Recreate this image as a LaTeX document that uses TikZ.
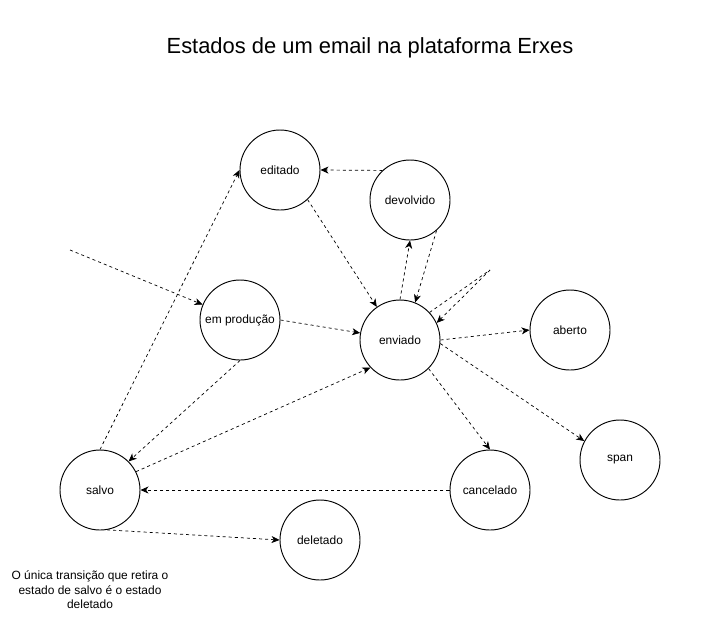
\documentclass[tikz,border=0pt]{standalone}
\usepackage{fontspec}
\setmainfont{Liberation Sans}
\usetikzlibrary{arrows.meta,shapes.geometric}

\begin{document}
\begin{tikzpicture}[x=0.03cm,y=-0.03cm,
  every node/.style={font=\fontsize{10.2pt}{12.3pt}\selectfont},
  estado/.style={draw,circle,line width=0.8pt,minimum size=2.4cm,inner sep=0pt,align=center},
  trans/.style={-{Stealth[length=2.4mm,width=2.1mm,inset=0.7mm]},line width=0.6pt,dash pattern=on 2.6pt off 2.6pt}]
\useasboundingbox (0,0) rectangle (702,631);
\node[font=\fontsize{18.7pt}{22pt}\selectfont] (titulo) at (370,48) {Estados de um email na plataforma Erxes};
\node[estado] (editado) at (280,170) {editado};
\node[estado] (devolvido) at (410,200) {devolvido};
\node[estado] (emprod) at (240,320) {em produção};
\node[estado] (enviado) at (400,340) {enviado};
\node[estado] (aberto) at (570,330) {aberto};
\node[estado] (span) at (620,460) {span};
\node[estado] (salvo) at (100,490) {salvo};
\node[estado] (cancelado) at (490,490) {cancelado};
\node[estado] (deletado) at (320,540) {deletado};
\node[align=center] (nota) at (90,590) {O única transição que retira o\\estado de salvo é o estado\\deletado};
\coordinate (entrada) at (70,250);
\coordinate (solto) at (490,270);
% transicoes
\draw[trans] (entrada) -- (emprod);
\draw[trans] (emprod.east) -- (enviado.170);
\draw[trans] (editado.-47) -- (enviado.125);
\draw[trans] (devolvido.133) -- (editado.east);
\draw[trans] (enviado.north) -- (devolvido.south);
\draw[trans] (devolvido.-49) -- (enviado.68);
\draw[trans,-] (enviado.43) -- (solto);
\draw[trans] (solto) -- (enviado.25);
\draw[trans] (enviado.east) -- (aberto.west);
\draw[trans] (enviado.-5) -- (span.152);
\draw[trans] (enviado.-45) -- (cancelado.north);
\draw[trans] (cancelado.west) -- (salvo.east);
\draw[trans] (salvo.27) -- (enviado.-137);
\draw[trans] (emprod.south) -- (salvo.45);
\draw[trans] (salvo.north) -- (editado.west);
\draw[trans] (salvo.-80) -- (deletado.west);
\end{tikzpicture}
\end{document}
